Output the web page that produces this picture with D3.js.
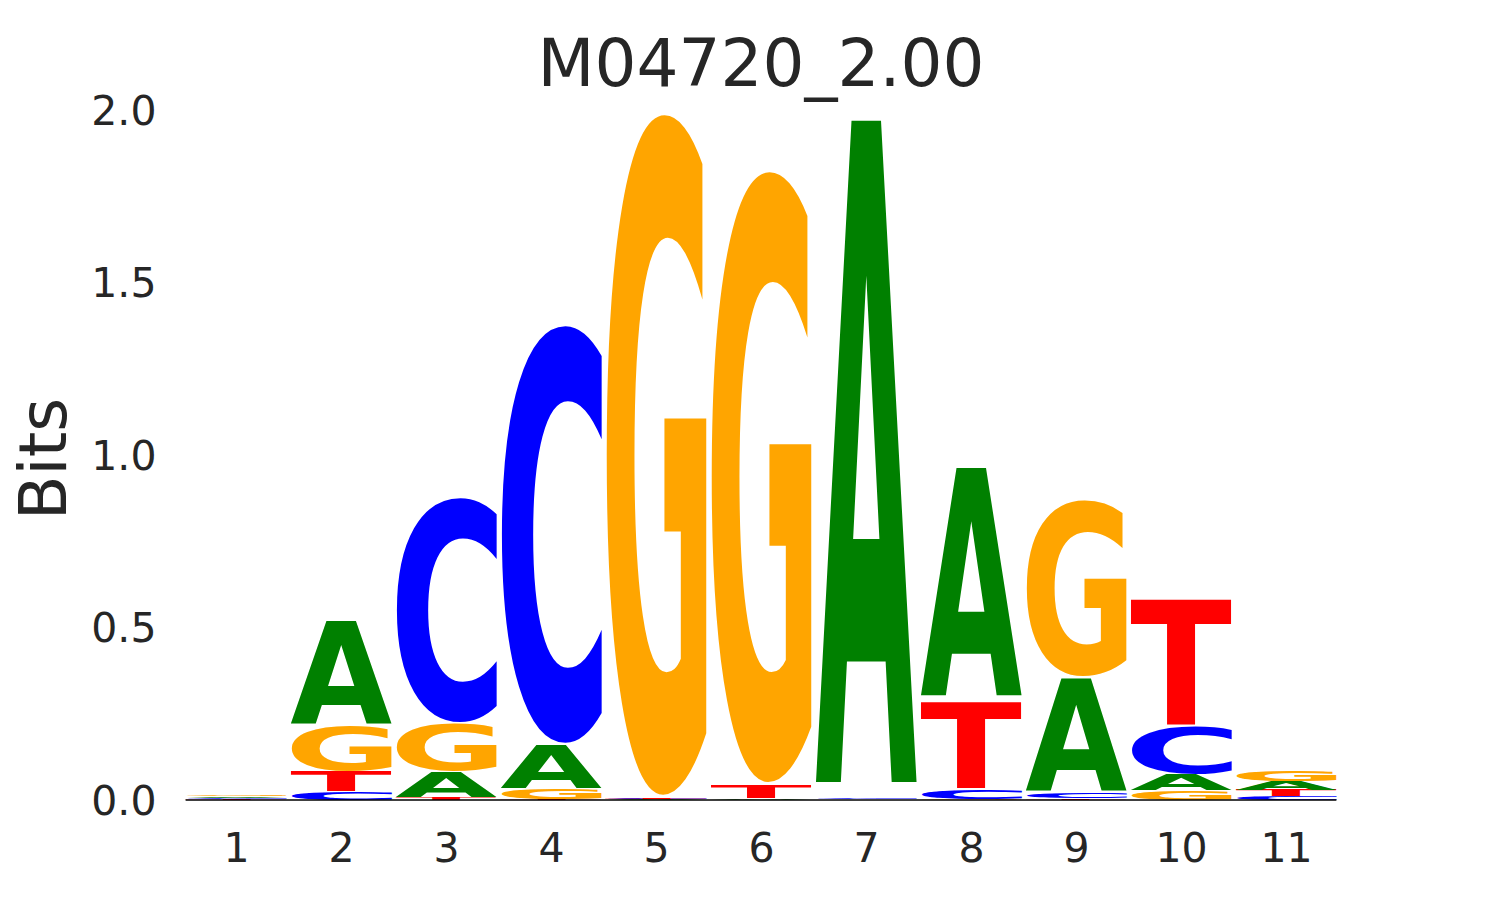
<!DOCTYPE html>
<html>
<head>
<meta charset="utf-8">
<script src="https://cdn.jsdelivr.net/npm/d3@7"></script>
<style>
  body { margin: 0; background: #fff; }
  text { font-family: "DejaVu Sans", sans-serif; }
</style>
</head>
<body>
<div id="svgWrapper"></div>
<script>
var fullWidth = 1485, fullHeight = 900;

// motif data (bits per letter at each position)
var positions = [1, 2, 3, 4, 5, 6, 7, 8, 9, 10, 11];
var bitsA = [0.0045, 0.31, 0.075, 0.128, 0.002, 0.003, 1.985, 0.682, 0.335, 0.045, 0.025];
var bitsC = [0.004, 0.025, 0.665, 1.238, 0.002, 0.001, 0.004, 0.029, 0.017, 0.14, 0.011];
var bitsG = [0.005, 0.13, 0.14, 0.03, 2.019, 1.812, 0.001, 0.003, 0.52, 0.029, 0.032];
var bitsT = [0.002, 0.058, 0.008, 0.002, 0.002, 0.04, 0.001, 0.256, 0.004, 0.375, 0.018];
var yTicks = [0, 0.5, 1.0, 1.5, 2.0];
var title = "M04720_2.00";

var letterColor = {A: "green", C: "blue", G: "orange", T: "red"};
var glyphWidth = 0.965;
var vpad = 0.02;

var xScale = d3.scaleLinear().domain([0.5, 11.5]).range([183.5, 1338.5]);
var yScale = d3.scaleLinear().domain([0, 2]).range([800, 110]);

var svg = d3.select("#svgWrapper")
  .append("svg")
  .attr("width", fullWidth)
  .attr("height", fullHeight);

svg.append("rect").attr("width", fullWidth).attr("height", fullHeight).attr("fill", "white");

// tight glyph bounds from canvas
var ctx = document.createElement("canvas").getContext("2d");
ctx.font = "bold 100px 'DejaVu Sans'";
function bounds(ch) {
  var m = ctx.measureText(ch);
  return {l: m.actualBoundingBoxLeft, r: m.actualBoundingBoxRight,
          a: m.actualBoundingBoxAscent, d: m.actualBoundingBoxDescent};
}

var logo = svg.append("g").attr("id", "logo");

for (var i = 0; i < positions.length; i++) {
  var col = [
    {c: "A", v: bitsA[i]}, {c: "C", v: bitsC[i]},
    {c: "G", v: bitsG[i]}, {c: "T", v: bitsT[i]}
  ].sort(function(a, b) { return a.v - b.v; }); // big on top

  var floor = 0;
  col.forEach(function(g) {
    var top = yScale(floor + g.v), bot = yScale(floor);
    floor += g.v;
    var h = bot - top;
    var dTop = top + vpad / 2 * h, dBot = bot - vpad / 2 * h;
    var xl = xScale(positions[i] - glyphWidth / 2);
    var w = xScale(positions[i] + glyphWidth / 2) - xl;
    var b = bounds(g.c);
    var sx = w / (b.l + b.r), sy = (dBot - dTop) / (b.a + b.d);
    logo.append("text")
      .attr("x", 0).attr("y", 0)
      .style("font-family", "'DejaVu Sans'")
      .style("font-weight", "bold")
      .style("font-size", "100px")
      .attr("fill", letterColor[g.c])
      .attr("transform", "translate(" + (xl + b.l * sx) + "," + (dBot - b.d * sy) + ") scale(" + sx + "," + sy + ")")
      .text(g.c);
  });
}

// baseline
svg.append("line")
  .attr("x1", xScale(0.52)).attr("x2", xScale(11.48))
  .attr("y1", yScale(0)).attr("y2", yScale(0))
  .attr("stroke", "black").attr("stroke-width", 1.5);

// axes
var yAxis = svg.append("g")
  .attr("transform", "translate(" + (xScale(0.5) - 27) + ",1)")
  .call(d3.axisLeft(yScale).tickValues(yTicks).tickSize(0).tickPadding(0).tickFormat(d3.format(".1f")));
var xAxis = svg.append("g")
  .attr("transform", "translate(0," + (yScale(0) + 31) + ")")
  .call(d3.axisBottom(xScale).tickValues(positions).tickSize(0).tickPadding(0).tickFormat(d3.format("d")));
[yAxis, xAxis].forEach(function(a) {
  a.select(".domain").remove();
  a.selectAll("text")
    .style("font-family", "'DejaVu Sans'")
    .style("font-size", "41px")
    .attr("fill", "#262626");
});
xAxis.selectAll("text").attr("dy", "0.75em");

// axis label
svg.append("text")
  .style("text-anchor", "middle")
  .style("font-size", "65px")
  .attr("fill", "#262626")
  .attr("transform", "translate(66,459) rotate(270)")
  .text("Bits");

// title
svg.append("text")
  .style("text-anchor", "middle")
  .style("font-size", "66px")
  .attr("fill", "#262626")
  .attr("x", (xScale(0.5) + xScale(11.5)) / 2)
  .attr("y", 86)
  .text(title);
</script>
</body>
</html>
